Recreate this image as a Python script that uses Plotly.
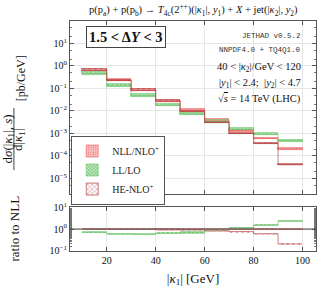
import plotly.graph_objects as go

# ---------------- data ----------------
bin_lo = [10, 20, 30, 40, 50, 60, 70, 80, 90]
bin_hi = [20, 30, 40, 50, 60, 70, 80, 90, 100]

nll_c = [0.66, 0.23, 0.085, 0.028, 0.0105, 0.0038, 0.0013, 0.00060, 0.00020]
nll_lo = [0.60, 0.21, 0.078, 0.025, 0.0095, 0.0034, 0.00118, 0.00057, 0.000185]
nll_hi = [0.73, 0.25, 0.093, 0.031, 0.0116, 0.0042, 0.00143, 0.00063, 0.000215]

ll_c = [0.46, 0.137, 0.048, 0.018, 0.0073, 0.0034, 0.0015, 0.00092, 0.00048]
ll_lo = [0.41, 0.12, 0.042, 0.016, 0.0064, 0.0030, 0.00135, 0.00083, 0.00043]
ll_hi = [0.52, 0.155, 0.054, 0.0205, 0.0083, 0.0038, 0.00167, 0.00102, 0.00053]

he_c = [0.66, 0.23, 0.085, 0.028, 0.0096, 0.0031, 0.00098, 0.00036, 0.000040]
he_lo = [0.62, 0.215, 0.080, 0.026, 0.0089, 0.0029, 0.00091, 0.00033, 0.000037]
he_hi = [0.70, 0.245, 0.090, 0.030, 0.0103, 0.0033, 0.00105, 0.00039, 0.000043]

main_tickvals = [10, 1, 0.1, 0.01, 0.001, 0.0001, 0.00001]
main_ticktext = ["10<sup>1</sup>", "10<sup>0</sup>", "10<sup>−1</sup>", "10<sup>−2</sup>",
                 "10<sup>−3</sup>", "10<sup>−4</sup>", "10<sup>−5</sup>"]
ratio_tickvals = [10, 1, 0.1]
ratio_ticktext = ["10<sup>1</sup>", "10<sup>0</sup>", "10<sup>−1</sup>"]
x_tickvals = [20, 40, 60, 80, 100]

series = [
    dict(name="NLL/NLO<sup>+</sup>", c=nll_c, lo=nll_lo, hi=nll_hi,
         line="rgba(235,90,90,0.75)",
         pattern=dict(shape=".", fgcolor="#e03030", bgcolor="#ffd6d6", size=3, solidity=0.45)),
    dict(name="LL/LO", c=ll_c, lo=ll_lo, hi=ll_hi,
         line="rgba(90,190,90,0.7)",
         pattern=dict(shape="x", fgcolor="#3a9a3a", bgcolor="#bfe8bf", size=3, solidity=0.45)),
    dict(name="HE-NLO<sup>+</sup>", c=he_c, lo=he_lo, hi=he_hi,
         line="rgba(170,40,40,0.75)",
         pattern=dict(shape="x", fgcolor="#b02828", bgcolor="#ffffff", size=4, solidity=0.35)),
]

SERIF = "Liberation Serif"
MONO = "Liberation Mono"
KAPPA = "<i>κ</i>"

fig = go.Figure()

xc = [(a + b) / 2 for a, b in zip(bin_lo, bin_hi)]
xw = [b - a for a, b in zip(bin_lo, bin_hi)]
step_x = bin_lo + [bin_hi[-1]]

for s in series:
    fig.add_trace(go.Bar(
        x=xc, width=xw, base=s["lo"], y=[h - l for h, l in zip(s["hi"], s["lo"])],
        marker=dict(color=s["pattern"]["bgcolor"], pattern=s["pattern"],
                    line=dict(color=s["line"], width=0.8)),
        name=s["name"], xaxis="x", yaxis="y", showlegend=True, legendgroup=s["name"],
    ))
    fig.add_trace(go.Scatter(
        x=step_x, y=s["c"] + [s["c"][-1]], mode="lines", line_shape="hv",
        line=dict(color=s["line"], width=0.8), showlegend=False, hoverinfo="skip",
        xaxis="x", yaxis="y",
    ))
    r_lo = [l / n for l, n in zip(s["lo"], nll_c)]
    r_hi = [h / n for h, n in zip(s["hi"], nll_c)]
    r_c = [c / n for c, n in zip(s["c"], nll_c)]
    fig.add_trace(go.Bar(
        x=xc, width=xw, base=r_lo, y=[h - l for h, l in zip(r_hi, r_lo)],
        marker=dict(color=s["pattern"]["bgcolor"], pattern=s["pattern"],
                    line=dict(width=0)),
        showlegend=False, xaxis="x2", yaxis="y2", legendgroup=s["name"],
    ))
    fig.add_trace(go.Scatter(
        x=step_x, y=r_c + [r_c[-1]], mode="lines", line_shape="hv",
        line=dict(color=s["line"], width=0.8), showlegend=False, hoverinfo="skip",
        xaxis="x2", yaxis="y2",
    ))

fig.add_shape(type="line", xref="x2 domain", yref="y2", x0=0, x1=1, y0=1, y1=1,
              line=dict(color="#444444", width=1))

axis_common = dict(showline=True, linecolor="#555555", linewidth=1, mirror="allticks",
                   ticks="inside", ticklen=4, tickcolor="#555555", automargin=False,
                   showgrid=True, gridcolor="#e6e6e6", gridwidth=1, zeroline=False,
                   tickfont=dict(family=SERIF, size=10, color="#111111"))

fig.update_layout(
    width=324, height=289,
    margin=dict(l=70, r=8, t=21, b=38, autoexpand=False),
    paper_bgcolor="white", plot_bgcolor="white",
    barmode="overlay", bargap=0,
    showlegend=True,
    legend=dict(x=0.005, y=0.352, xanchor="left", yanchor="middle",
                bordercolor="#555555", borderwidth=1, bgcolor="white",
                font=dict(family=SERIF, size=10, color="#222222"),
                itemwidth=30, tracegroupgap=0),
    xaxis=dict(domain=[0, 1], range=[5, 105.5], anchor="y", tickvals=x_tickvals,
               showticklabels=False, **axis_common),
    yaxis=dict(domain=[0.248, 1], type="log", range=[-5.7, 2.0], tickvals=main_tickvals,
               ticktext=main_ticktext,
               minor=dict(ticks="inside", ticklen=2, tickcolor="#777777", showgrid=False),
               **axis_common),
    xaxis2=dict(domain=[0, 1], range=[5, 105.5], anchor="y2", tickvals=x_tickvals,
                title=dict(text="|" + KAPPA + "<sub>1</sub>| [GeV]",
                           font=dict(family=SERIF, size=13, color="#111111"), standoff=8),
                **axis_common),
    yaxis2=dict(domain=[0, 0.191], type="log", range=[-1.03, 1.03], anchor="x2",
                tickvals=ratio_tickvals, ticktext=ratio_ticktext,
                minor=dict(ticks="inside", ticklen=2, tickcolor="#777777", showgrid=False),
                **axis_common),
)

ann = []
ann.append(dict(text="p(p<sub>a</sub>) + p(p<sub>b</sub>) → <i>T</i><sub>4c</sub>(2<sup>++</sup>)(|" + KAPPA + "<sub>1</sub>|, <i>y</i><sub>1</sub>) + <i>X</i> + jet(|" + KAPPA + "<sub>2</sub>|, <i>y</i><sub>2</sub>)",
                xref="paper", yref="paper", x=0.5, y=1.0, yshift=11, xanchor="center", yanchor="middle",
                showarrow=False, font=dict(family=SERIF, size=10.5, color="#111111")))
ann.append(dict(text="<b>1.5 &lt; Δ<i>Y</i> &lt; 3</b>", xref="paper", yref="paper", x=0.228, y=0.93,
                xanchor="center", yanchor="middle", showarrow=False,
                font=dict(family=SERIF, size=14.5, color="#111111"),
                bordercolor="#444444", borderwidth=1, borderpad=2, bgcolor="white"))
right_x = 0.947
ann.append(dict(text="JETHAD v0.5.2", xref="paper", yref="paper", x=right_x, y=0.935,
                xanchor="right", yanchor="middle", showarrow=False,
                font=dict(family=MONO, size=7.5, color="#333333")))
ann.append(dict(text="NNPDF4.0 + TQ4Q1.0", xref="paper", yref="paper", x=right_x, y=0.874,
                xanchor="right", yanchor="middle", showarrow=False,
                font=dict(family=MONO, size=7.5, color="#333333")))
ann.append(dict(text="40 &lt; |" + KAPPA + "<sub>2</sub>|/GeV &lt; 120", xref="paper", yref="paper", x=right_x, y=0.8,
                xanchor="right", yanchor="middle", showarrow=False,
                font=dict(family=SERIF, size=10.5, color="#111111")))
ann.append(dict(text="|<i>y</i><sub>1</sub>| &lt; 2.4;  |<i>y</i><sub>2</sub>| &lt; 4.7", xref="paper", yref="paper", x=right_x, y=0.73,
                xanchor="right", yanchor="middle", showarrow=False,
                font=dict(family=SERIF, size=10.5, color="#111111")))
ann.append(dict(text="√<span style='text-decoration:overline'><i>s</i></span> = 14 TeV (LHC)", xref="paper", yref="paper", x=right_x, y=0.661,
                xanchor="right", yanchor="middle", showarrow=False,
                font=dict(family=SERIF, size=10.5, color="#111111")))
ann.append(dict(text="d<i>σ</i>(|" + KAPPA + "<sub>1</sub>|, <i>s</i>)", xref="paper", yref="paper",
                x=-0.250, y=0.487, xanchor="center", yanchor="middle", textangle=-90, showarrow=False,
                font=dict(family=SERIF, size=13, color="#111111")))
ann.append(dict(text="d|" + KAPPA + "<sub>1</sub>|", xref="paper", yref="paper",
                x=-0.207, y=0.483, xanchor="center", yanchor="middle", textangle=-90, showarrow=False,
                font=dict(family=SERIF, size=13, color="#111111")))
ann.append(dict(text="[pb/GeV]", xref="paper", yref="paper",
                x=-0.200, y=0.75, xanchor="center", yanchor="middle", textangle=-90, showarrow=False,
                font=dict(family=SERIF, size=12, color="#111111")))
ann.append(dict(text="ratio to NLL", xref="paper", yref="paper",
                x=-0.225, y=0.096, xanchor="center", yanchor="middle", textangle=-90, showarrow=False,
                font=dict(family=SERIF, size=13, color="#111111")))
fig.update_layout(annotations=ann)
fig.add_shape(type="line", xref="paper", yref="paper", x0=-0.228, x1=-0.228, y0=0.352, y1=0.622,
              line=dict(color="#111111", width=0.8))

fig.write_html("out.html", config={"displayModeBar": False},
               post_script="document.body.style.margin='0px';")
